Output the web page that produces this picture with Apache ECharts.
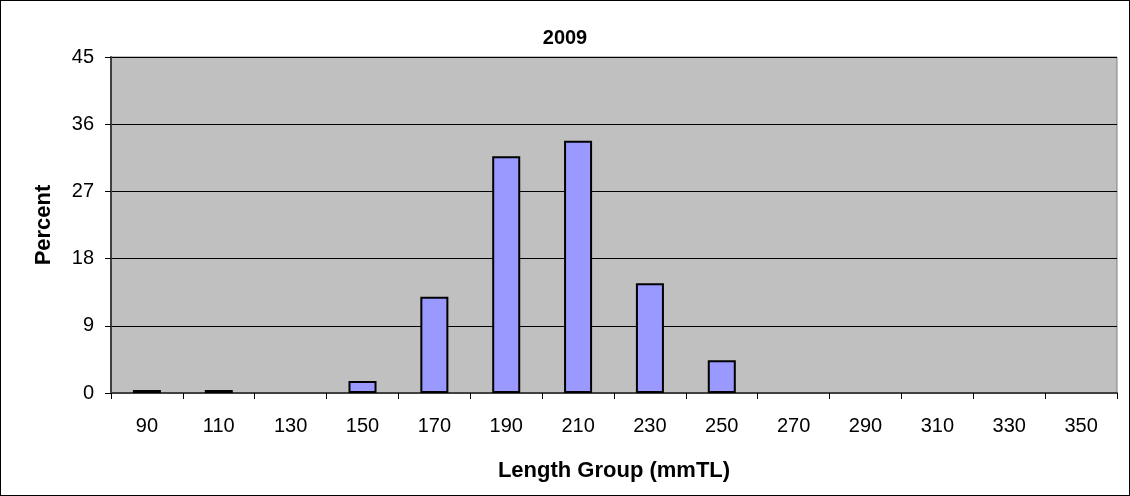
<!DOCTYPE html>
<html><head><meta charset="utf-8">
<script src="https://cdn.jsdelivr.net/npm/echarts@6/dist/echarts.min.js"></script>
<style>html,body{margin:0;padding:0;background:#fff}#c{width:1130px;height:496px;box-sizing:border-box;border:1px solid #000}</style>
</head><body><div id="c"></div>
<script>
const categories = ['90','110','130','150','170','190','210','230','250','270','290','310','330','350'];
const percentValues = [0.4,0.4,0,1.6,12.9,31.7,33.8,14.7,4.4,0,0,0,0,0];
const yTicks = [0,9,18,27,36,45];
const chart = echarts.init(document.getElementById('c'));
const F = 'Liberation Sans, Arial, sans-serif';
chart.setOption({
  animation:false,
  title:{text:'2009',left:'center',top:22,textStyle:{fontFamily:F,fontSize:20,fontWeight:'bold',color:'#000'}},
  grid:{left:110,right:12,top:56,bottom:102,show:true,backgroundColor:'#C0C0C0',borderColor:'#808080',borderWidth:1},
  xAxis:{type:'category',data:categories,name:'Length Group (mmTL)',nameLocation:'middle',nameGap:67,
    nameTextStyle:{fontFamily:F,fontSize:22,fontWeight:'bold',color:'#000'},
    axisLine:{lineStyle:{color:'#404040',width:2}},axisTick:{show:true,length:6,lineStyle:{color:'#000'}},
    axisLabel:{fontFamily:F,fontSize:20,color:'#000',margin:23}},
  yAxis:{type:'value',min:yTicks[0],max:yTicks[yTicks.length-1],interval:yTicks[1]-yTicks[0],name:'Percent',nameLocation:'middle',nameGap:56,
    nameTextStyle:{fontFamily:F,fontSize:22,fontWeight:'bold',color:'#000'},
    axisLine:{show:true,lineStyle:{color:'#404040',width:2}},axisTick:{show:true,length:6,lineStyle:{color:'#000'}},
    axisLabel:{fontFamily:F,fontSize:20,color:'#000',margin:17},
    splitLine:{show:true,lineStyle:{color:'#000',width:1}}},
  series:[{type:'bar',data:percentValues.map(v => v === 0 ? '-' : v),barWidth:'39%',
    itemStyle:{color:'#9999FF',borderColor:'#000',borderWidth:2}}]
});
</script></body></html>
